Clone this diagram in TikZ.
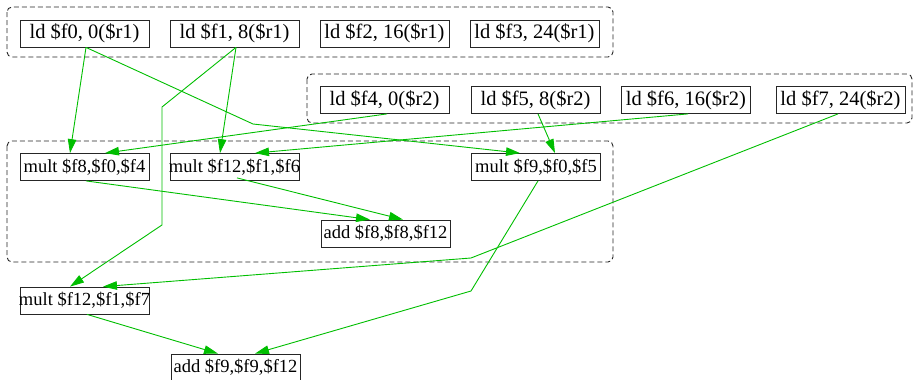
\documentclass[tikz,border=0pt]{standalone}
\usepackage{fontspec}
\setmainfont{Liberation Serif}
\usetikzlibrary{arrows.meta}
\definecolor{edgegreen}{RGB}{0,190,0}
% label that may overhang its fixed-size box
\newcommand\oplabel[1]{\makebox[0pt]{#1}}
\begin{document}
\begin{tikzpicture}[x=1pt,y=-1pt,
  op/.style={draw=black!85, line width=0.8pt, minimum width=129pt,
    minimum height=27pt, inner sep=0pt},
  ldop/.style={op, font=\fontsize{20.5}{22}\selectfont},
  arop/.style={op, font=\fontsize{18.5}{20}\selectfont},
  cluster/.style={draw=black!85, dash pattern=on 5pt off 3pt,
    rounded corners=5pt, line width=0.9pt},
  dep/.style={draw=edgegreen, line width=0.9pt,
    -{Triangle[length=14pt,width=8.5pt]}}]
\useasboundingbox (0,0) rectangle (913,380);

% groups
\draw[cluster] (7,7) rectangle (613,57);
\draw[cluster] (307,74) rectangle (912,123);
\draw[cluster] (7,141) rectangle (613,262);

% loads
\node[ldop] (f0) at (84.5,33.5) {\oplabel{ld \$f0, 0(\$r1)}};
\node[ldop] (f1) at (234.5,33.5) {\oplabel{ld \$f1, 8(\$r1)}};
\node[ldop] (f2) at (384.5,33.5) {\oplabel{ld \$f2, 16(\$r1)}};
\node[ldop] (f3) at (534.5,33.5) {\oplabel{ld \$f3, 24(\$r1)}};
\node[ldop] (f4) at (384.5,100) {\oplabel{ld \$f4, 0(\$r2)}};
\node[ldop] (f5) at (535.5,100) {\oplabel{ld \$f5, 8(\$r2)}};
\node[ldop] (f6) at (686,100) {\oplabel{ld \$f6, 16(\$r2)}};
\node[ldop] (f7) at (840.5,100) {\oplabel{ld \$f7, 24(\$r2)}};

% arithmetic
\node[arop] (m8) at (84.5,167) {\oplabel{mult \$f8,\$f0,\$f4}};
\node[arop] (m12a) at (234.5,167) {\oplabel{mult \$f12,\$f1,\$f6}};
\node[arop] (m9) at (536,167) {\oplabel{mult \$f9,\$f0,\$f5}};
\node[arop] (a8) at (385.5,233.5) {\oplabel{add \$f8,\$f8,\$f12}};
\node[arop] (m12b) at (84.5,300.5) {\oplabel{mult \$f12,\$f1,\$f7}};
\node[arop] (a9) at (235.5,367.5) {\oplabel{add \$f9,\$f9,\$f12}};

% bend points
\coordinate (b1) at (253,124);
\coordinate (b2) at (162,107);
\coordinate (b3) at (162,225);
\coordinate (b4) at (471,258);
\coordinate (b5) at (471,291);

% dependences
\draw[dep] ([xshift=1.5pt]f0.south) -- ([xshift=-14.5pt]m8.north);
\draw[dep] ([xshift=1.5pt]f0.south) -- (b1) -- ([xshift=-16pt]m9.north);
\draw[dep] ([xshift=1.5pt]f1.south) -- ([xshift=-14.5pt]m12a.north);
\draw[dep] ([xshift=1.5pt]f1.south) -- (b2) -- (b3) -- ([xshift=-14.5pt]m12b.north);
\draw[dep] ([xshift=2.5pt]f4.south) -- ([xshift=20.5pt]m8.north);
\draw[dep] ([xshift=2.5pt]f5.south) -- ([xshift=19pt]m9.north);
\draw[dep] ([xshift=2pt]f6.south) -- ([xshift=20.5pt]m12a.north);
\draw[dep] ([xshift=-2.5pt]f7.south) -- (b4) -- ([xshift=18.5pt]m12b.north);
\draw[dep] ([xshift=1.5pt]m8.south) -- ([xshift=-15.5pt]a8.north);
\draw[dep] ([xshift=2.5pt,yshift=3pt]m12a.south) -- ([xshift=17.5pt]a8.north);
\draw[dep] ([xshift=2.5pt]m12b.south) -- ([xshift=-17.5pt]a9.north);
\draw[dep] ([xshift=2pt]m9.south) -- (b5) -- ([xshift=19.5pt]a9.north);
\end{tikzpicture}
\end{document}
